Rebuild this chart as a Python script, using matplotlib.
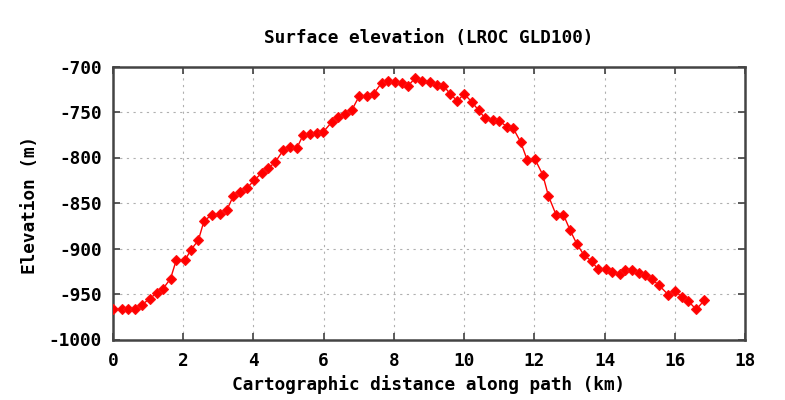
import matplotlib
matplotlib.use("Agg")
import matplotlib.pyplot as plt

# Data
distance_km = [0.00, 0.25, 0.44, 0.63, 0.82, 1.05, 1.24, 1.43, 1.64, 1.80,
               2.05, 2.21, 2.43, 2.59, 2.81, 3.05, 3.24, 3.43, 3.62, 3.81,
               4.02, 4.24, 4.42, 4.62, 4.85, 5.04, 5.23, 5.42, 5.61, 5.80,
               5.99, 6.23, 6.42, 6.61, 6.80, 7.02, 7.23, 7.42, 7.65, 7.84,
               8.03, 8.23, 8.41, 8.60, 8.79, 9.03, 9.22, 9.41, 9.60, 9.81,
               10.00, 10.22, 10.41, 10.60, 10.82, 11.00, 11.22, 11.40, 11.61, 11.80,
               12.02, 12.24, 12.40, 12.62, 12.83, 13.02, 13.21, 13.41, 13.63, 13.82,
               14.03, 14.22, 14.44, 14.59, 14.78, 14.97, 15.16, 15.35, 15.54, 15.82,
               16.01, 16.20, 16.39, 16.61, 16.84]
elevation_m = [-967, -966, -967, -967, -962, -955, -949, -944, -933, -913,
               -913, -902, -891, -870, -863, -862, -858, -842, -838, -834,
               -825, -817, -812, -805, -792, -789, -790, -775, -774, -773,
               -772, -761, -756, -752, -748, -732, -732, -730, -718, -716,
               -717, -718, -721, -713, -716, -717, -720, -721, -730, -738,
               -730, -739, -748, -757, -759, -760, -766, -768, -783, -803,
               -802, -819, -842, -863, -863, -880, -895, -907, -914, -923,
               -923, -926, -928, -924, -924, -927, -929, -934, -940, -951,
               -947, -953, -958, -967, -957]

title = "Surface elevation (LROC GLD100)"
xlabel = "Cartographic distance along path (km)"
ylabel = "Elevation (m)"
xticks = [0, 2, 4, 6, 8, 10, 12, 14, 16, 18]
yticks = [-1000, -950, -900, -850, -800, -750, -700]

font = dict(family="DejaVu Sans Mono", weight="bold")
fs = 12.8

fig = plt.figure(figsize=(7.85, 4.0), dpi=100)
ax = fig.add_axes([113/785, 1 - 339.5/400, (745-113)/785, (339.5-66.5)/400])

ax.plot(distance_km, elevation_m, color="#ff0000", lw=1.0, marker="D",
        markersize=5.5, markeredgewidth=0.8, markeredgecolor="#ff1010",
        markerfacecolor="#ff0000", zorder=3)

ax.set_xlim(0, 18)
ax.set_ylim(-1000, -700)
ax.set_xticks(xticks)
ax.set_yticks(yticks)
ax.set_xticklabels([str(t) for t in xticks], fontsize=fs, **font)
ax.set_yticklabels([str(t) for t in yticks], fontsize=fs, **font)

ax.grid(True, color="#b0b0b0", linestyle=(0, (2, 4)), linewidth=0.8)
ax.set_axisbelow(True)
ax.tick_params(direction="in", length=5, width=1.2, color="#404040",
               top=True, right=True, pad=8)
ax.tick_params(axis="x", pad=9)
for s in ax.spines.values():
    s.set_color("#444444")
    s.set_linewidth(1.8)

fig.text(429/785, 1 - 38/400, title, ha="center", va="center", fontsize=fs, **font)
fig.text(429/785, 1 - 385/400, xlabel, ha="center", va="center", fontsize=fs, **font)
fig.text(30/785, 1 - 205/400, ylabel, ha="center", va="center", rotation=90,
         fontsize=fs, **font)

fig.savefig("out.png", dpi=100, facecolor="white")
